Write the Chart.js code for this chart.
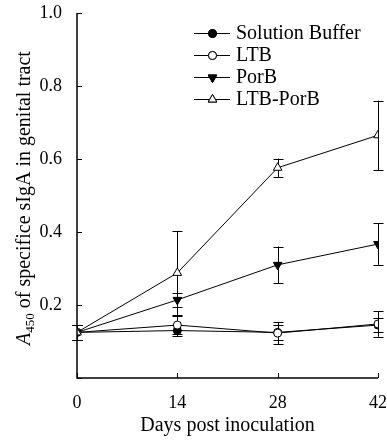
<!DOCTYPE html>
<html>
<head>
<meta charset="utf-8">
<script src="https://cdn.jsdelivr.net/npm/chart.js@4.4.1/dist/chart.umd.min.js"></script>
<style>
  html, body { margin: 0; padding: 0; background: #fff; }
  #wrap { width: 387px; height: 440px; }
</style>
</head>
<body>
<div id="wrap"><canvas id="chart" width="387" height="440"></canvas></div>
<script>
// Days post inoculation
const days = [0, 14, 28, 42];
const yTicks = [0, 0.2, 0.4, 0.6, 0.8, 1.0];

// Mean A450 per group
const bufferValues = [0.125, 0.13, 0.125, 0.145];
const ltbValues = [0.125, 0.145, 0.123, 0.148];
const porbValues = [0.125, 0.214, 0.31, 0.367];
const ltbPorbValues = [0.125, 0.288, 0.576, 0.665];

// Error bar half-lengths
const bufferErrors = [0.02, 0.015, 0.02, 0.02];
const ltbErrors = [0.02, 0.025, 0.03, 0.035];
const porbErrors = [0.02, 0.02, 0.05, 0.057];
const ltbPorbErrors = [0.02, 0.115, 0.025, 0.095];

const serif = "'Liberation Serif', 'DejaVu Serif', serif";

function makeSeries(label, values, errors, style, fill, rotation, order) {
  return {
    label: label,
    data: days.map((d, i) => ({ x: d, y: values[i] })),
    errors: errors,
    borderColor: "#000",
    borderWidth: 1,
    pointStyle: style,
    pointRotation: rotation,
    pointRadius: style === "triangle" ? 5 : 4,
    pointBorderWidth: 1,
    pointBorderColor: "#000",
    pointBackgroundColor: fill,
    tension: 0,
    order: order,
  };
}

const datasets = [
  makeSeries("Solution Buffer", bufferValues, bufferErrors, "circle", "#000", 0, 4),
  makeSeries("LTB", ltbValues, ltbErrors, "circle", "#fff", 0, 3),
  makeSeries("PorB", porbValues, porbErrors, "triangle", "#000", 180, 2),
  makeSeries("LTB-PorB", ltbPorbValues, ltbPorbErrors, "triangle", "#fff", 0, 1),
];

// Error bars, inward axis ticks, legend and the y title with subscript
const extras = {
  id: "extras",
  beforeDatasetsDraw(chart) {
    const ctx = chart.ctx;
    const xs = chart.scales.x;
    const ys = chart.scales.y;
    ctx.save();
    ctx.strokeStyle = "#000";
    ctx.lineWidth = 1;
    chart.data.datasets.forEach((ds) => {
      ds.data.forEach((p, i) => {
        const e = ds.errors[i];
        const px = Math.round(xs.getPixelForValue(p.x)) + 0.5;
        const top = ys.getPixelForValue(p.y + e);
        const bot = ys.getPixelForValue(p.y - e);
        ctx.beginPath();
        ctx.moveTo(px, top);
        ctx.lineTo(px, bot);
        ctx.moveTo(px - 5, Math.round(top) + 0.5);
        ctx.lineTo(px + 5, Math.round(top) + 0.5);
        ctx.moveTo(px - 5, Math.round(bot) + 0.5);
        ctx.lineTo(px + 5, Math.round(bot) + 0.5);
        ctx.stroke();
      });
    });
    ctx.restore();
  },
  afterDraw(chart) {
    const ctx = chart.ctx;
    const xs = chart.scales.x;
    const ys = chart.scales.y;
    const area = chart.chartArea;
    ctx.save();
    ctx.strokeStyle = "#000";
    ctx.lineWidth = 1.5;
    // axis lines
    ctx.beginPath();
    ctx.moveTo(area.left, area.top);
    ctx.lineTo(area.left, area.bottom);
    ctx.lineTo(area.right, area.bottom);
    ctx.stroke();
    // inward ticks
    ctx.lineWidth = 1;
    days.forEach((d) => {
      const px = Math.round(xs.getPixelForValue(d)) + 0.5;
      ctx.beginPath();
      ctx.moveTo(px, area.bottom);
      ctx.lineTo(px, area.bottom - 5);
      ctx.stroke();
    });
    yTicks.forEach((v) => {
      const py = Math.round(ys.getPixelForValue(v)) + 0.5;
      ctx.beginPath();
      ctx.moveTo(area.left, py);
      ctx.lineTo(area.left + 5, py);
      ctx.stroke();
    });

    // legend
    ctx.font = "20px " + serif;
    ctx.fillStyle = "#000";
    ctx.textBaseline = "middle";
    const rowY = [33, 55, 77, 99];
    chart.data.datasets.forEach((ds, i) => {
      const y = rowY[i];
      ctx.beginPath();
      ctx.moveTo(194, y + 0.5);
      ctx.lineTo(230, y + 0.5);
      ctx.stroke();
      Chart.helpers.drawPoint(ctx, {
        pointStyle: ds.pointStyle,
        rotation: ds.pointRotation,
        radius: ds.pointRadius,
        borderWidth: 1,
      }, 212.5, y + 0.5);
      ctx.fillStyle = ds.pointBackgroundColor;
      ctx.fill();
      ctx.stroke();
      ctx.fillStyle = "#000";
      ctx.fillText(ds.label, 236, y + 1);
    });

    // y title: A450 with italic A and subscript
    ctx.translate(24, 198);
    ctx.rotate(-Math.PI / 2);
    const partA = "A";
    const partSub = "450";
    const partRest = " of specifice sIgA in genital tract";
    ctx.font = "italic 20px " + serif;
    const wA = ctx.measureText(partA).width;
    ctx.font = "13px " + serif;
    const wSub = ctx.measureText(partSub).width;
    ctx.font = "20px " + serif;
    const wRest = ctx.measureText(partRest).width;
    let x0 = -(wA + wSub + wRest) / 2;
    ctx.textBaseline = "alphabetic";
    ctx.font = "italic 20px " + serif;
    ctx.fillText(partA, x0, 6);
    x0 += wA;
    ctx.font = "13px " + serif;
    ctx.fillText(partSub, x0, 10);
    x0 += wSub;
    ctx.font = "20px " + serif;
    ctx.fillText(partRest, x0, 6);
    ctx.restore();
  },
};

new Chart(document.getElementById("chart"), {
  type: "line",
  data: { datasets: datasets },
  options: {
    responsive: false,
    animation: false,
    layout: { padding: { left: 0, right: 9, top: 13, bottom: 0 } },
    plugins: {
      legend: { display: false },
      tooltip: { enabled: false },
    },
    scales: {
      x: {
        type: "linear",
        min: 0,
        max: 42,
        afterFit: (scale) => {
          scale.height = 62;
          scale.paddingLeft = 0;
          scale.paddingRight = 0;
        },
        afterBuildTicks: (scale) => { scale.ticks = days.map((d) => ({ value: d })); },
        grid: { display: false, drawTicks: false },
        border: { display: false },
        ticks: {
          color: "#000",
          padding: 14,
          font: { family: serif, size: 18 },
        },
        title: {
          display: true,
          text: "Days post inoculation",
          color: "#000",
          font: { family: serif, size: 20 },
          padding: { top: 4, bottom: 2 },
        },
      },
      y: {
        min: 0,
        max: 1,
        afterFit: (scale) => {
          scale.width = 77;
          scale.paddingTop = 0;
          scale.paddingBottom = 0;
        },
        afterBuildTicks: (scale) => { scale.ticks = yTicks.map((v) => ({ value: v })); },
        grid: { display: false, drawTicks: false },
        border: { display: false },
        ticks: {
          color: "#000",
          padding: 15,
          font: { family: serif, size: 18 },
          callback: (v) => (v === 0 ? "" : v.toFixed(1)),
        },
      },
    },
  },
  plugins: [extras],
});
</script>
</body>
</html>
